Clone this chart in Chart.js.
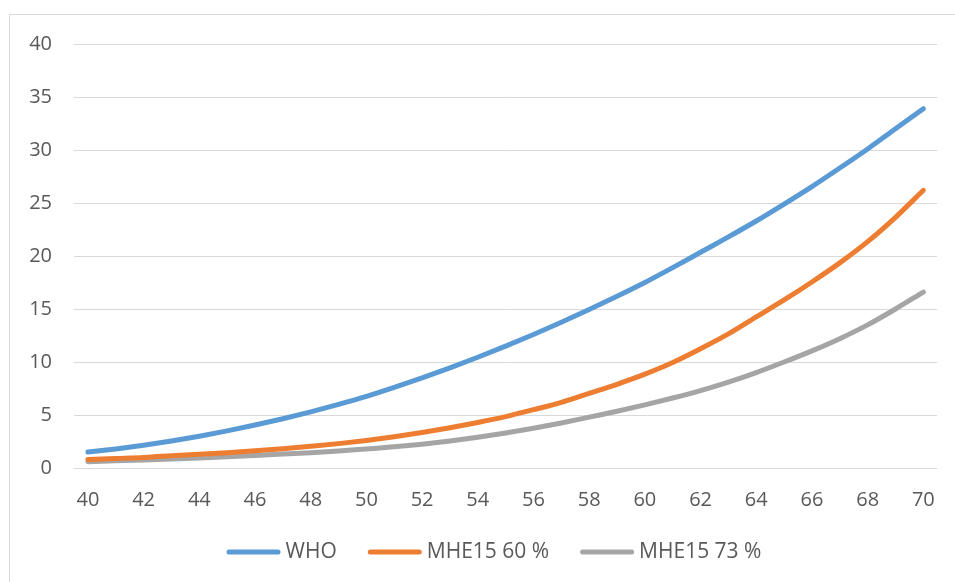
<!DOCTYPE html>
<html>
<head>
<meta charset="utf-8">
<script src="https://cdn.jsdelivr.net/npm/chart.js@4.4.1/dist/chart.umd.min.js"></script>
<style>
  html, body { margin: 0; padding: 0; background: #ffffff; }
  #wrap { position: relative; width: 955px; height: 582px; overflow: hidden; }
  canvas { position: absolute; left: 0; top: 0; }
</style>
</head>
<body>
<div id="wrap"><canvas id="chart" width="955" height="582"></canvas></div>
<script>
// Age in years
const ages = [40, 41, 42, 43, 44, 45, 46, 47, 48, 49, 50, 51, 52, 53, 54, 55,
              56, 57, 58, 59, 60, 61, 62, 63, 64, 65, 66, 67, 68, 69, 70];

const seriesNames = ['WHO', 'MHE15 60 %', 'MHE15 73 %'];

const whoValues = [1.5, 1.8, 2.15, 2.55, 3.0, 3.5, 4.05, 4.65, 5.3, 6.0, 6.75, 7.6, 8.5, 9.45, 10.45, 11.5,
                   12.6, 13.75, 14.95, 16.2, 17.5, 18.9, 20.35, 21.8, 23.3, 24.9, 26.55, 28.3, 30.1, 32.0, 33.9];

const mhe60Values = [0.8, 0.9, 1.0, 1.15, 1.3, 1.45, 1.62, 1.82, 2.05, 2.3, 2.6, 2.95, 3.35, 3.8, 4.3, 4.85,
                     5.5, 6.2, 7.05, 7.9, 8.85, 9.95, 11.25, 12.65, 14.25, 15.85, 17.55, 19.35, 21.35, 23.65, 26.2];

const mhe73Values = [0.6, 0.68, 0.76, 0.85, 0.95, 1.06, 1.18, 1.31, 1.45, 1.61, 1.8, 2.0, 2.25, 2.55, 2.9, 3.3,
                     3.75, 4.25, 4.8, 5.35, 5.95, 6.6, 7.3, 8.1, 9.0, 10.0, 11.05, 12.2, 13.5, 15.0, 16.6];

const yTicks = [0, 5, 10, 15, 20, 25, 30, 35, 40];

const colors = ['#5B9BD5', '#ED7D31', '#A5A5A5'];
const textColor = '#595959';
const gridColor = '#D9D9D9';
const fontFamily = '"Open Sans", "Noto Sans", sans-serif';

function lineDataset(label, data, color) {
  return {
    label: label,
    data: data,
    borderColor: color,
    backgroundColor: color,
    borderWidth: 5,
    borderCapStyle: 'round',
    borderJoinStyle: 'round',
    pointRadius: 0,
    pointHoverRadius: 0,
    cubicInterpolationMode: 'monotone',
    fill: false
  };
}

// Outer frame of the chart object
const framePlugin = {
  id: 'frame',
  beforeDraw(chart) {
    const ctx = chart.ctx;
    ctx.save();
    ctx.strokeStyle = gridColor;
    ctx.lineWidth = 1;
    ctx.beginPath();
    ctx.moveTo(9.5, chart.height + 5);
    ctx.lineTo(9.5, 14.5);
    ctx.lineTo(chart.width + 5, 14.5);
    ctx.stroke();
    ctx.restore();
  }
};

// Legend drawn under the x axis: thick line sample followed by the series name
const bottomLegend = {
  id: 'bottomLegend',
  afterDraw(chart) {
    const ctx = chart.ctx;
    ctx.save();
    ctx.font = '21px ' + fontFamily;
    const sample = 54, gap = 5, spacing = 31;
    const items = chart.data.datasets.map(ds => ({
      label: ds.label, color: ds.borderColor, w: ctx.measureText(ds.label).width
    }));
    const total = items.reduce((s, it) => s + sample + gap + it.w, 0) + spacing * (items.length - 1);
    let x = 494 - total / 2;
    const y = 552;
    items.forEach(it => {
      ctx.strokeStyle = it.color;
      ctx.lineWidth = 5;
      ctx.lineCap = 'round';
      ctx.beginPath();
      ctx.moveTo(x + 2.5, y);
      ctx.lineTo(x + sample - 2.5, y);
      ctx.stroke();
      x += sample + gap;
      ctx.fillStyle = textColor;
      ctx.textBaseline = 'middle';
      ctx.textAlign = 'left';
      ctx.fillText(it.label, x, y);
      x += it.w + spacing;
    });
    ctx.restore();
  }
};

new Chart(document.getElementById('chart'), {
  type: 'line',
  data: {
    labels: ages,
    datasets: [
      lineDataset(seriesNames[0], whoValues, colors[0]),
      lineDataset(seriesNames[1], mhe60Values, colors[1]),
      lineDataset(seriesNames[2], mhe73Values, colors[2])
    ]
  },
  options: {
    responsive: false,
    animation: false,
    layout: { padding: { left: 0, right: 14, top: 44, bottom: 0 } },
    plugins: {
      legend: { display: false },
      tooltip: { enabled: false }
    },
    scales: {
      x: {
        type: 'category',
        offset: true,
        grid: { display: false, drawTicks: false },
        border: { display: false },
        afterFit(scale) { scale.height = 114; },
        ticks: {
          autoSkip: false,
          maxRotation: 0,
          padding: 20,
          color: textColor,
          font: { family: fontFamily, size: 20 },
          callback(value, index) {
            return index % 2 === 0 ? ages[index] : '';
          }
        }
      },
      y: {
        min: yTicks[0],
        max: yTicks[yTicks.length - 1],
        afterFit(scale) { scale.width = 74; },
        afterBuildTicks(scale) { scale.ticks = yTicks.map(v => ({ value: v })); },
        grid: { color: gridColor, lineWidth: 1, drawTicks: false },
        border: { display: false },
        ticks: {
          padding: 22,
          color: textColor,
          font: { family: fontFamily, size: 20 }
        }
      }
    }
  },
  plugins: [framePlugin, bottomLegend]
});
</script>
</body>
</html>
